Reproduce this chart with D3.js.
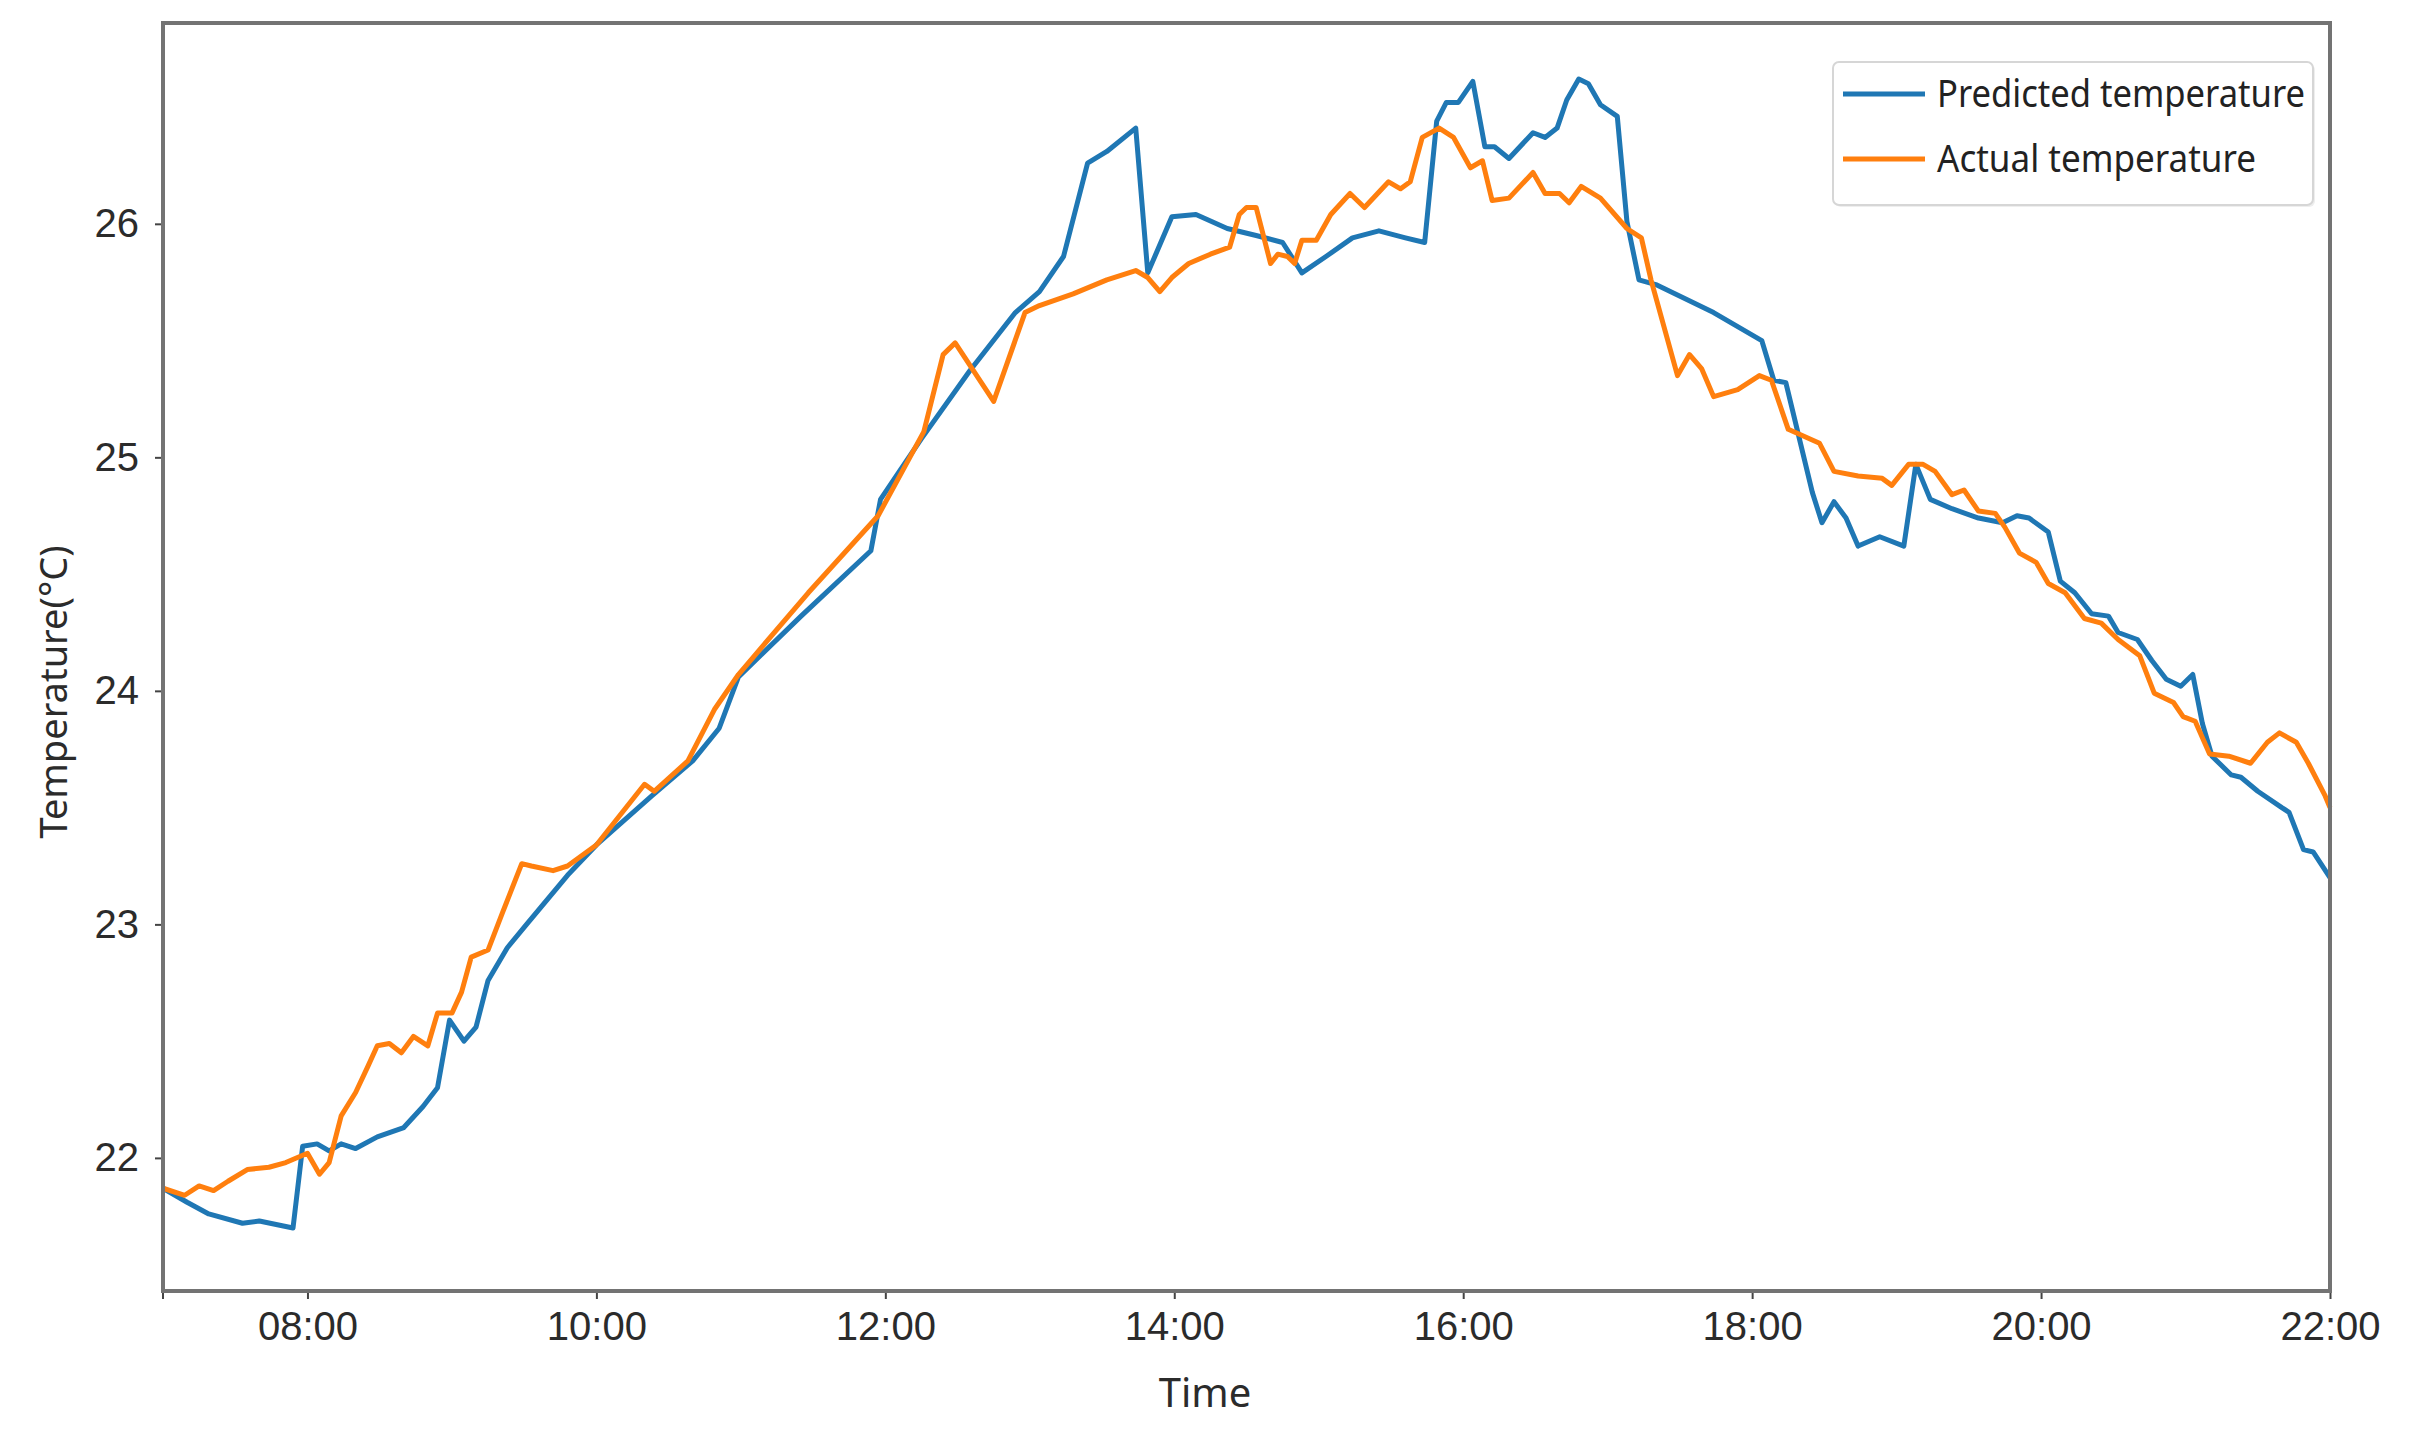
<!DOCTYPE html>
<html>
<head>
<meta charset="utf-8">
<script src="https://cdn.jsdelivr.net/npm/d3@7"></script>
<style>
  body { margin: 0; background: #fff; }
  svg { display: block; font-family: "Noto Sans", "Open Sans", sans-serif; }
</style>
</head>
<body>
<svg id="chart" width="2415" height="1437"></svg>
<script>
// ---- Data
const predTimes = ["07:00","07:10","07:19","07:33","07:40","07:54","07:58","08:04","08:09","08:14","08:20","08:29","08:40","08:48","08:54","08:59","09:05","09:10","09:15","09:23","09:31","09:48","10:00","10:23","10:40","10:51","10:59","11:25","11:54","11:58","12:15","12:35","12:54","13:04","13:14","13:24","13:32","13:44","13:49","13:59","14:09","14:22","14:34","14:45","14:53","15:03","15:14","15:25","15:36","15:44","15:49","15:53","15:58","16:04","16:09","16:13","16:19","16:29","16:34","16:39","16:43","16:48","16:52","16:57","17:04","17:08","17:13","17:20","17:44","18:04","18:09","18:14","18:25","18:29","18:34","18:39","18:44","18:53","19:03","19:08","19:14","19:23","19:34","19:44","19:50","19:55","20:03","20:08","20:14","20:21","20:28","20:32","20:40","20:46","20:52","20:58","21:03","21:07","21:11","21:19","21:23","21:30","21:40","21:43","21:49","21:53","22:00"];
const predValues = [21.87,21.81,21.76,21.72,21.73,21.70,22.05,22.06,22.03,22.06,22.04,22.09,22.13,22.22,22.30,22.59,22.50,22.56,22.76,22.90,23.00,23.21,23.34,23.55,23.70,23.84,24.06,24.32,24.60,24.82,25.08,25.37,25.62,25.71,25.86,26.26,26.31,26.41,25.79,26.03,26.04,25.98,25.95,25.92,25.79,25.86,25.94,25.97,25.94,25.92,26.44,26.52,26.52,26.61,26.33,26.33,26.28,26.39,26.37,26.41,26.53,26.62,26.60,26.51,26.46,26.01,25.76,25.74,25.62,25.50,25.33,25.32,24.85,24.72,24.81,24.74,24.62,24.66,24.62,24.97,24.82,24.78,24.74,24.72,24.75,24.74,24.68,24.47,24.42,24.33,24.32,24.25,24.22,24.13,24.05,24.02,24.07,23.86,23.72,23.64,23.63,23.57,23.50,23.48,23.32,23.31,23.20];

const actualTimes = ["07:00","07:09","07:15","07:21","07:27","07:35","07:44","07:51","08:00","08:05","08:09","08:14","08:20","08:25","08:29","08:34","08:39","08:44","08:50","08:54","09:00","09:04","09:08","09:15","09:21","09:29","09:33","09:42","09:48","10:00","10:20","10:24","10:38","10:49","10:59","11:28","11:57","12:16","12:24","12:29","12:45","12:58","13:04","13:18","13:32","13:44","13:49","13:54","13:59","14:06","14:15","14:23","14:27","14:30","14:34","14:40","14:43","14:47","14:50","14:53","14:59","15:05","15:13","15:19","15:29","15:34","15:38","15:43","15:50","15:56","16:03","16:08","16:12","16:19","16:29","16:34","16:40","16:44","16:49","16:57","17:08","17:14","17:18","17:29","17:34","17:39","17:44","17:54","18:03","18:08","18:15","18:28","18:34","18:44","18:54","18:58","19:05","19:11","19:16","19:23","19:28","19:34","19:41","19:45","19:51","19:58","20:03","20:10","20:18","20:25","20:32","20:41","20:47","20:55","20:59","21:04","21:10","21:18","21:27","21:34","21:39","21:46","21:51","21:58","22:00"];
const actualValues = [21.87,21.84,21.88,21.86,21.90,21.95,21.96,21.98,22.02,21.93,21.98,22.18,22.28,22.39,22.48,22.49,22.45,22.52,22.48,22.62,22.62,22.71,22.86,22.89,23.05,23.26,23.25,23.23,23.25,23.34,23.60,23.57,23.70,23.92,24.07,24.42,24.75,25.11,25.44,25.49,25.24,25.62,25.65,25.70,25.76,25.80,25.77,25.71,25.77,25.83,25.87,25.90,26.04,26.07,26.07,25.83,25.87,25.86,25.83,25.93,25.93,26.04,26.13,26.07,26.18,26.15,26.18,26.37,26.41,26.37,26.24,26.27,26.10,26.11,26.22,26.13,26.13,26.09,26.16,26.11,25.98,25.94,25.76,25.35,25.44,25.38,25.26,25.29,25.35,25.33,25.12,25.06,24.94,24.92,24.91,24.88,24.97,24.97,24.94,24.84,24.86,24.77,24.76,24.70,24.59,24.55,24.46,24.42,24.31,24.29,24.22,24.15,23.99,23.95,23.89,23.87,23.73,23.72,23.69,23.78,23.82,23.78,23.69,23.55,23.50];

const yTicks = [22, 23, 24, 25, 26];
const timeRange = ["07:00", "22:00"];
const seriesNames = ["Predicted temperature", "Actual temperature"];

// ---- Layout
const margin = { left: 163, right: 85, top: 23, bottom: 146 };
const svg = d3.select('#chart');
const W = +svg.attr('width');
const H = +svg.attr('height');
const plotW = W - margin.left - margin.right;
const plotH = H - margin.top - margin.bottom;

const parseTime = d3.timeParse('%H:%M');
const toSeries = (times, values) => times.map((t, i) => ({ t: parseTime(t), v: values[i] }));
const predicted = toSeries(predTimes, predValues);
const actual = toSeries(actualTimes, actualValues);

// ---- Escalas
const mapX = d3.scaleTime()
    .domain(timeRange.map(parseTime))
    .range([0, plotW]);

const mapY = d3.scaleLinear()
    .domain([21.43, 26.86])
    .range([plotH, 0]);

const g = svg.append('g')
    .attr('transform', `translate(${margin.left}, ${margin.top})`);

// ---- Eixos
const xAxis = d3.axisBottom(mapX)
    .ticks(d3.timeHour.every(2))
    .tickFormat(d3.timeFormat('%H:%M'))
    .tickSize(8)
    .tickPadding(13);

const gx = g.append('g')
    .attr('transform', `translate(0, ${plotH})`)
    .call(xAxis);

const yAxis = d3.axisLeft(mapY)
    .tickValues(yTicks)
    .tickFormat(d3.format('d'))
    .tickSize(8)
    .tickPadding(16);

const gy = g.append('g').call(yAxis);

[gx, gy].forEach(ax => {
    ax.select('.domain').remove();
    ax.selectAll('.tick line').attr('stroke', '#444').attr('stroke-width', 2);
    ax.selectAll('.tick text')
        .attr('fill', '#2b2b2b')
        .style('font-size', '40px');
});

// tick at the left edge (no label)
gx.append('line')
    .attr('x1', mapX(parseTime(timeRange[0])))
    .attr('x2', mapX(parseTime(timeRange[0])))
    .attr('y1', 0)
    .attr('y2', 8)
    .attr('stroke', '#444')
    .attr('stroke-width', 2);

// ---- Linhas
const line = d3.line()
    .x(d => mapX(d.t))
    .y(d => mapY(d.v));

g.append('path')
    .datum(predicted)
    .attr('fill', 'none')
    .attr('stroke', '#1f77b4')
    .attr('stroke-width', 5)
    .attr('stroke-linejoin', 'round')
    .attr('d', line);

g.append('path')
    .datum(actual)
    .attr('fill', 'none')
    .attr('stroke', '#ff7f0e')
    .attr('stroke-width', 5)
    .attr('stroke-linejoin', 'round')
    .attr('d', line);

// ---- Moldura
g.append('rect')
    .attr('x', 0)
    .attr('y', 0)
    .attr('width', plotW)
    .attr('height', plotH)
    .attr('fill', 'none')
    .attr('stroke', '#737373')
    .attr('stroke-width', 4);

// ---- Labels
svg.append('text')
    .attr('x', 1205)
    .attr('y', 1407)
    .attr('text-anchor', 'middle')
    .attr('fill', '#2b2b2b')
    .style('font-size', '40px')
    .text('Time');

svg.append('text')
    .attr('transform', 'translate(67, 692) rotate(-90)')
    .attr('text-anchor', 'middle')
    .attr('fill', '#2b2b2b')
    .style('font-size', '38px')
    .text('Temperature(°C)');

// ---- Legenda
const legend = svg.append('g').attr('transform', 'translate(1833, 62)');
legend.append('rect')
    .attr('x', 2).attr('y', 2)
    .attr('width', 480).attr('height', 143)
    .attr('rx', 6)
    .attr('fill', '#eee');
legend.append('rect')
    .attr('width', 480).attr('height', 143)
    .attr('rx', 6)
    .attr('fill', '#fff')
    .attr('stroke', '#d6d6d6')
    .attr('stroke-width', 2);

const legendColors = ['#1f77b4', '#ff7f0e'];
const legendWidths = [368, 319];
seriesNames.forEach((name, i) => {
    const yy = 32 + i * 65;
    legend.append('line')
        .attr('x1', 10).attr('x2', 92)
        .attr('y1', yy).attr('y2', yy)
        .attr('stroke', legendColors[i])
        .attr('stroke-width', 5);
    legend.append('text')
        .attr('x', 104)
        .attr('y', yy)
        .attr('dy', '0.35em')
        .attr('fill', '#222')
        .attr('textLength', legendWidths[i])
        .attr('lengthAdjust', 'spacingAndGlyphs')
        .style('font-size', '38px')
        .text(name);
});
</script>
</body>
</html>
